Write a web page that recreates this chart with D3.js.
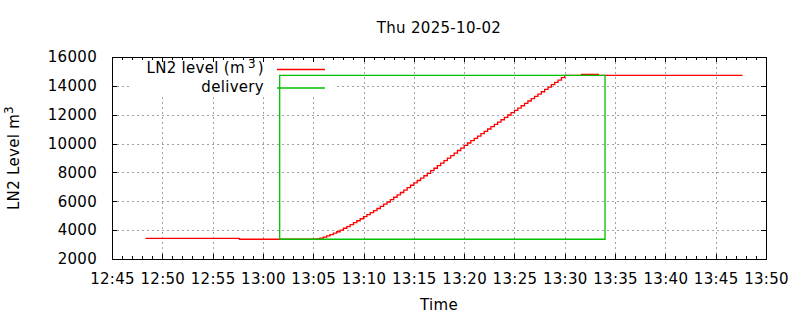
<!DOCTYPE html>
<html>
<head>
<meta charset="utf-8">
<script src="https://cdn.jsdelivr.net/npm/d3@7"></script>
<style>
  body { margin: 0; background: #fff; }
  text { font-family: "DejaVu Sans", sans-serif; fill: #000; letter-spacing: 0.3px; }
</style>
</head>
<body>
<div id="chart"></div>
<script>
const width = 800;
const height = 320;
const margin = { top: 57, right: 34, bottom: 61, left: 112 };
const titleText = "Thu 2025-10-02";
const day = "2025-10-02";

// axis ranges and ticks
const xDomain = ["12:45:00", "13:50:00"];
const yDomain = [2000, 16000];
const yTicks = [2000, 4000, 6000, 8000, 10000, 12000, 14000, 16000];

// LN2 level readings (m3), drawn as steps
const levelTimes = [
    "12:48:20", "12:57:40",
    "13:05:20", "13:05:40", "13:06:00", "13:06:20", "13:06:40", "13:07:00", "13:07:20", "13:07:40",
    "13:08:00", "13:08:20", "13:08:40", "13:09:00", "13:09:20", "13:09:40", "13:10:00", "13:10:20",
    "13:10:40", "13:11:00", "13:11:20", "13:11:40", "13:12:00", "13:12:20", "13:12:40", "13:13:00",
    "13:13:20", "13:13:40", "13:14:00", "13:14:20", "13:14:40", "13:15:00", "13:15:20", "13:15:40",
    "13:16:00", "13:16:20", "13:16:40", "13:17:00", "13:17:20", "13:17:40", "13:18:00", "13:18:20",
    "13:18:40", "13:19:00", "13:19:20", "13:19:40", "13:20:00", "13:20:20", "13:20:40", "13:21:00",
    "13:21:20", "13:21:40", "13:22:00", "13:22:20", "13:22:40", "13:23:00", "13:23:20", "13:23:40",
    "13:24:00", "13:24:20", "13:24:40", "13:25:00", "13:25:20", "13:25:40", "13:26:00", "13:26:20",
    "13:26:40", "13:27:00", "13:27:20", "13:27:40", "13:28:00", "13:28:20", "13:28:40", "13:29:00",
    "13:29:20", "13:29:40", "13:30:00",
    "13:31:40", "13:33:20", "13:47:40"
];
const levelValues = [
    3430, 3370,
    3400, 3450, 3520, 3600, 3690, 3790, 3890, 4000,
    4130, 4250, 4380, 4520, 4650, 4790, 4930, 5070,
    5210, 5350, 5500, 5650, 5800, 5950, 6120, 6280,
    6450, 6610, 6780, 6940, 7110, 7270, 7440, 7600,
    7770, 7940, 8120, 8290, 8470, 8640, 8820, 8990,
    9170, 9340, 9520, 9690, 9870, 10040, 10200, 10360,
    10520, 10690, 10850, 11010, 11170, 11330, 11490, 11650,
    11820, 11980, 12140, 12300, 12460, 12620, 12780, 12950,
    13110, 13270, 13430, 13590, 13750, 13910, 14080, 14240,
    14400, 14570, 14730,
    14800, 14730, 14730
];

// delivery window (start/end level)
const deliveryTimes = ["13:01:40", "13:01:40", "13:34:00", "13:34:00", "13:01:40"];
const deliveryValues = [3370, 14730, 14730, 3370, 3370];

const parseTime = d3.timeParse("%Y-%m-%d %H:%M:%S");
const toDate = t => parseTime(`${day} ${t}`);

const svg = d3.select("#chart").append("svg")
    .attr("width", width)
    .attr("height", height);

const plotW = width - margin.left - margin.right;
const plotH = height - margin.top - margin.bottom;

const xScale = d3.scaleTime()
    .domain(xDomain.map(toDate))
    .range([margin.left, margin.left + plotW]);

const yScale = d3.scaleLinear()
    .domain(yDomain)
    .range([margin.top + plotH, margin.top]);

const majorTicks = d3.timeMinute.every(5).range(xScale.domain()[0], +xScale.domain()[1] + 1);
const minorTicks = d3.timeMinute.every(1).range(xScale.domain()[0], +xScale.domain()[1] + 1);

// grid
const grid = svg.append("g")
    .attr("stroke", "#a0a0a0")
    .attr("stroke-width", 1)
    .attr("stroke-dasharray", "2,3");

grid.selectAll("line.vx")
    .data(majorTicks.slice(1, -1))
    .join("line")
    .attr("x1", d => Math.round(xScale(d)) + 0.5)
    .attr("x2", d => Math.round(xScale(d)) + 0.5)
    .attr("y1", margin.top)
    .attr("y2", margin.top + plotH);

grid.selectAll("line.hy")
    .data(yTicks.slice(1, -1))
    .join("line")
    .attr("x1", margin.left)
    .attr("x2", margin.left + plotW)
    .attr("y1", d => Math.round(yScale(d)) + 0.5)
    .attr("y2", d => Math.round(yScale(d)) + 0.5);

// key background hides the grid
svg.append("rect")
    .attr("x", 130)
    .attr("y", margin.top + 1)
    .attr("width", 204)
    .attr("height", 39)
    .attr("fill", "#fff");

// axes
const fontSize = "15px";

svg.append("g")
    .attr("transform", `translate(0,${margin.top + plotH})`)
    .call(d3.axisBottom(xScale)
        .tickValues(majorTicks)
        .tickFormat(d3.timeFormat("%H:%M"))
        .tickSize(-5)
        .tickPadding(14));

svg.append("g")
    .attr("transform", `translate(0,${margin.top + plotH})`)
    .call(d3.axisBottom(xScale).tickValues(minorTicks).tickFormat("").tickSize(-3));

svg.append("g")
    .attr("transform", `translate(0,${margin.top})`)
    .call(d3.axisTop(xScale).tickValues(majorTicks).tickFormat("").tickSize(-5));

svg.append("g")
    .attr("transform", `translate(0,${margin.top})`)
    .call(d3.axisTop(xScale).tickValues(minorTicks).tickFormat("").tickSize(-3));

svg.append("g")
    .attr("transform", `translate(${margin.left},0)`)
    .call(d3.axisLeft(yScale)
        .tickValues(yTicks)
        .tickFormat(d3.format("d"))
        .tickSize(-5)
        .tickPadding(15));

svg.append("g")
    .attr("transform", `translate(${margin.left + plotW},0)`)
    .call(d3.axisRight(yScale).tickValues(yTicks).tickFormat("").tickSize(-5));

svg.selectAll(".domain").remove();
svg.selectAll(".tick line").attr("stroke", "#000").attr("shape-rendering", "crispEdges");
svg.selectAll(".tick text")
    .attr("font-family", "DejaVu Sans, sans-serif")
    .attr("font-size", fontSize)
    .attr("fill", "#000");

// data lines
const levelData = levelTimes.map((t, i) => ({ t: toDate(t), v: levelValues[i] }));
const deliveryData = deliveryTimes.map((t, i) => ({ t: toDate(t), v: deliveryValues[i] }));

const stepLine = d3.line()
    .x(d => xScale(d.t))
    .y(d => yScale(d.v))
    .curve(d3.curveStepAfter);

const plainLine = d3.line()
    .x(d => xScale(d.t))
    .y(d => yScale(d.v));

svg.append("path")
    .datum(levelData)
    .attr("d", stepLine)
    .attr("fill", "none")
    .attr("stroke", "#ff0000")
    .attr("stroke-width", 1.3);

svg.append("path")
    .datum(deliveryData)
    .attr("d", plainLine)
    .attr("fill", "none")
    .attr("stroke", "#00c000")
    .attr("stroke-width", 1.3);

// frame
svg.append("rect")
    .attr("x", margin.left + 0.5)
    .attr("y", margin.top + 0.5)
    .attr("width", plotW)
    .attr("height", plotH)
    .attr("fill", "none")
    .attr("stroke", "#000")
    .attr("shape-rendering", "crispEdges");

// key
const keyItems = [
    { label: "LN2 level (m", sup: "3", tail: ")", color: "#ff0000" },
    { label: "delivery", sup: null, tail: "", color: "#00c000" }
];

keyItems.forEach((k, i) => {
    const y = 73 + i * 18.5;
    const txt = svg.append("text")
        .attr("x", 264)
        .attr("y", y)
        .attr("text-anchor", "end")
        .attr("font-size", fontSize);
    txt.append("tspan").text(k.label);
    if (k.sup) {
        txt.append("tspan").attr("dx", 3).attr("dy", -5).attr("font-size", "12px").text(k.sup);
        txt.append("tspan").attr("dx", 2).attr("dy", 5).text(k.tail);
    }
    svg.append("line")
        .attr("x1", 277)
        .attr("x2", 325)
        .attr("y1", y - 3.5)
        .attr("y2", y - 3.5)
        .attr("stroke", k.color)
        .attr("stroke-width", 1.3);
});

// titles
svg.append("text")
    .attr("x", margin.left + plotW / 2)
    .attr("y", 32.5)
    .attr("text-anchor", "middle")
    .attr("font-size", fontSize)
    .text(titleText);

svg.append("text")
    .attr("x", margin.left + plotW / 2)
    .attr("y", 310)
    .attr("text-anchor", "middle")
    .attr("font-size", fontSize)
    .text("Time");

const yLabel = svg.append("text")
    .attr("transform", `translate(18.5,${margin.top + plotH / 2}) rotate(-90)`)
    .attr("text-anchor", "middle")
    .attr("font-size", fontSize);
yLabel.append("tspan").text("LN2 Level m");
yLabel.append("tspan").attr("dy", -6).attr("font-size", "12px").text("3");
</script>
</body>
</html>
